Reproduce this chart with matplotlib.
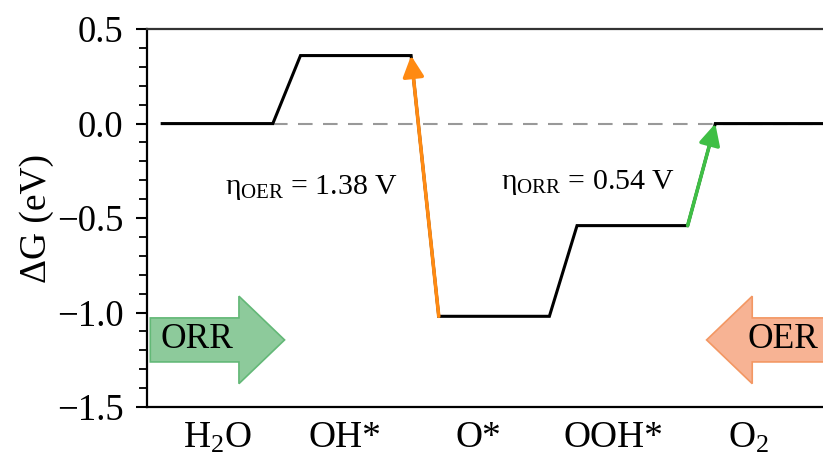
import matplotlib
matplotlib.use("Agg")
import matplotlib.pyplot as plt
from matplotlib.patches import FancyArrow

plt.rcParams['font.family'] = ['Liberation Serif', 'DejaVu Serif']
plt.rcParams['mathtext.fontset'] = 'custom'
plt.rcParams['mathtext.rm'] = 'Liberation Serif'
plt.rcParams['mathtext.it'] = 'Liberation Serif'

# free energy levels (eV)
steps = ['H$_2$O', 'OH*', 'O*', 'OOH*', 'O$_2$']
dG = [0.0, 0.36, -1.02, -0.54, 0.0]
label_pos = [0.0, 0.92, 1.89, 2.86, 3.84]
eta_oer = 1.38
eta_orr = 0.54

half = 0.4  # half width of a plateau

fig = plt.figure(figsize=(8.23, 4.55), dpi=100)
ax = fig.add_axes([0.1786, 0.1055, 0.83, 0.8305])

# energy path
xs, ys = [], []
for i, g in enumerate(dG):
    xs += [i - half, i + half]
    ys += [g, g]
xs[-1] = 4.6
ax.plot(xs, ys, color='black', lw=2.2, solid_joinstyle='miter', zorder=3)

# reference line
ax.plot([half, 4.6], [0, 0], color='#999999', lw=1.5, ls=(0, (7, 5)), zorder=1)

# overpotential arrows
ax.annotate('', xy=(1 + half, dG[1]), xytext=(2 - half, dG[2]),
            arrowprops=dict(arrowstyle='-|>', color='#ff8a12', lw=2.6,
                            mutation_scale=32, shrinkA=0, shrinkB=0), zorder=4)
ax.annotate('', xy=(4 - half, dG[4]), xytext=(3 + half, dG[3]),
            arrowprops=dict(arrowstyle='-|>', color='#3fbf45', lw=2.6,
                            mutation_scale=32, shrinkA=0, shrinkB=0), zorder=4)

ax.text(0.68, -0.34, r'$\eta_{\mathrm{OER}}$ = %.2f V' % eta_oer, fontsize=21.5,
        ha='center', va='center')
ax.text(2.68, -0.31, r'$\eta_{\mathrm{ORR}}$ = %.2f V' % eta_orr, fontsize=21.5,
        ha='center', va='center')

# ORR / OER direction arrows
ax.add_patch(FancyArrow(-0.486, -1.145, 0.971, 0, width=0.233, head_width=0.463,
                        head_length=0.33, length_includes_head=True,
                        facecolor='#8dca9b', edgecolor='#63b877', lw=1.2, zorder=2))
ax.text(-0.15, -1.145, 'ORR', fontsize=25.5, ha='center', va='center', zorder=3)
ax.add_patch(FancyArrow(4.6, -1.145, -1.063, 0, width=0.233, head_width=0.463,
                        head_length=0.33, length_includes_head=True,
                        facecolor='#f7b394', edgecolor='#f39763', lw=1.2, zorder=2,
                        clip_on=True))
ax.text(4.09, -1.145, 'OER', fontsize=25.5, ha='center', va='center', zorder=3)

ax.set_xlim(-0.51, 4.43)
ax.set_ylim(-1.5, 0.5)
ax.set_xticks(label_pos)
ax.set_xticklabels(steps, fontsize=27)
ax.tick_params(axis='x', length=0, pad=10)
ax.set_yticks([-1.5, -1.0, -0.5, 0.0, 0.5])
ax.set_yticklabels(['\u22121.5', '\u22121.0', '\u22120.5', '0.0', '0.5'])
ax.set_yticks([i / 10 for i in range(-15, 6)], minor=True)
ax.tick_params(axis='y', labelsize=26.5, direction='out', length=8, width=1.5, pad=9)
ax.tick_params(axis='y', which='minor', direction='out', length=6, width=1.3)
ax.set_ylabel('\u0394G (eV)', fontsize=27, labelpad=2)

for s in ['left', 'bottom', 'top']:
    ax.spines[s].set_linewidth(1.6)
ax.spines['top'].set_color('#333333')
ax.spines['right'].set_visible(False)

fig.savefig('out.png', dpi=100)
